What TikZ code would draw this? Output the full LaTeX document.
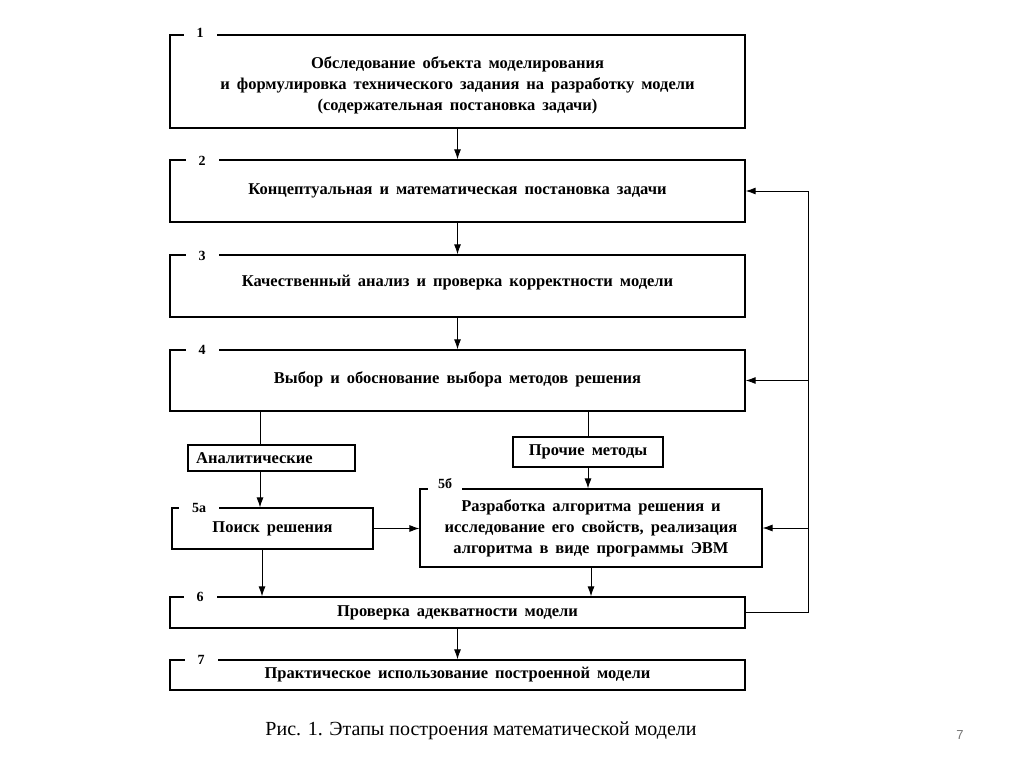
\documentclass[tikz,border=0pt]{standalone}
\usepackage{fontspec}
\setmainfont{Liberation Serif}
\newfontfamily\pagefont{Liberation Sans}
\usetikzlibrary{arrows.meta,calc,positioning}

\newcommand{\boxfont}{\bfseries\fontsize{16.5}{21}\selectfont\spaceskip=7pt plus 2pt minus 1pt}
\tikzset{
  stage/.style={draw, line width=1.3pt, minimum width=575pt, align=center, font=\boxfont, inner sep=0pt},
  method/.style={draw, line width=1.1pt, align=center, font=\boxfont, inner sep=0pt},
  num/.style={fill=white, inner xsep=13pt, inner ysep=1pt, font=\bfseries\fontsize{14}{14}\selectfont},
  arr/.style={line width=0.9pt, -{Latex[length=10pt,width=7pt]}},
  link/.style={line width=0.9pt}
}

\begin{document}
\begin{tikzpicture}[x=1pt,y=-1pt, line join=miter]
\useasboundingbox (0,0) rectangle (1024,767);
% stages
\node[stage, minimum height=93pt] (b1) at (457.5,81.5) {\rule{0pt}{20pt}Обследование  объекта  моделирования\\и формулировка  технического  задания на разработку  модели\\(содержательная  постановка  задачи)};
\node[stage, minimum height=62pt] (b2) at (457.5,191) {Концептуальная  и математическая  постановка  задачи};
\node[stage, minimum height=62pt, text depth=10pt] (b3) at (457.5,286) {Качественный  анализ  и проверка  корректности  модели};
\node[stage, minimum height=61pt, text depth=6pt] (b4) at (457.5,380.5) {Выбор  и обоснование  выбора  методов решения};
\node[method, minimum width=167pt, minimum height=26pt] (anl) at (271.5,458) {Аналитические\hspace{34pt}};
\node[method, minimum width=150pt, minimum height=30pt] (oth) at (588,452) {Прочие  методы};
\node[method, minimum width=201pt, minimum height=41pt] (b5a) at (272.5,528.5) {Поиск  решения};
\node[method, minimum width=342pt, minimum height=78pt] (b5b) at (591,528) {Разработка  алгоритма  решения  и\\исследование  его свойств, реализация\\алгоритма  в виде программы  ЭВМ};
\node[stage, minimum height=31pt] (b6) at (457.5,612.5) {Проверка  адекватности  модели};
\node[stage, minimum height=30pt] (b7) at (457.5,675) {Практическое  использование  построенной  модели};
% numbers
\foreach \k/\t/\x/\y in {n1/1/200/33, n2/2/202/161, n3/3/202/256, n4/4/202/350, n5a/5а/199/508, n6/6/200/597, n7/7/201/660}{\node[num] (\k) at (\x,\y) {\t};}
\node[num, anchor=base west, inner xsep=10pt, text depth=18pt] (n5b) at (428,488) {5б};
% connectors
\coordinate (fb) at (808,0);
\draw[arr] (b1.south) -- (b2.north);
\draw[arr] (b2.south) -- (b3.north);
\draw[arr] (b3.south) -- (b4.north);
\draw[link] (b4.south -| 260,0) -- (anl.north -| 260,0);
\draw[link] (b4.south -| oth.north) -- (oth.north);
\draw[arr] (anl.south -| 260,0) -- (b5a.north -| 260,0);
\draw[arr] (oth.south) -- (b5b.north -| oth.south);
\draw[arr] (b5a.east) -- (b5b.west |- b5a.east);
\draw[arr] (b5a.south -| 262,0) -- (b6.north -| 262,0);
\draw[arr] (b5b.south) -- (b6.north -| b5b.south);
\draw[arr] (b6.south) -- (b7.north);
\draw[arr] (b6.east) -- (b6.east -| fb) -- (b2.east -| fb) -- (b2.east);
\draw[arr] (b4.east -| fb) -- (b4.east);
\draw[arr] (b5b.east -| fb) -- (b5b.east);
% caption
\node[font=\fontsize{20}{20}\selectfont] (cap) at (481,731) {Рис. 1. Этапы построения математической модели};
\node[font=\pagefont\fontsize{13}{13}\selectfont, text=black!55] (pg) at (960,735) {7};
\end{tikzpicture}
\end{document}
